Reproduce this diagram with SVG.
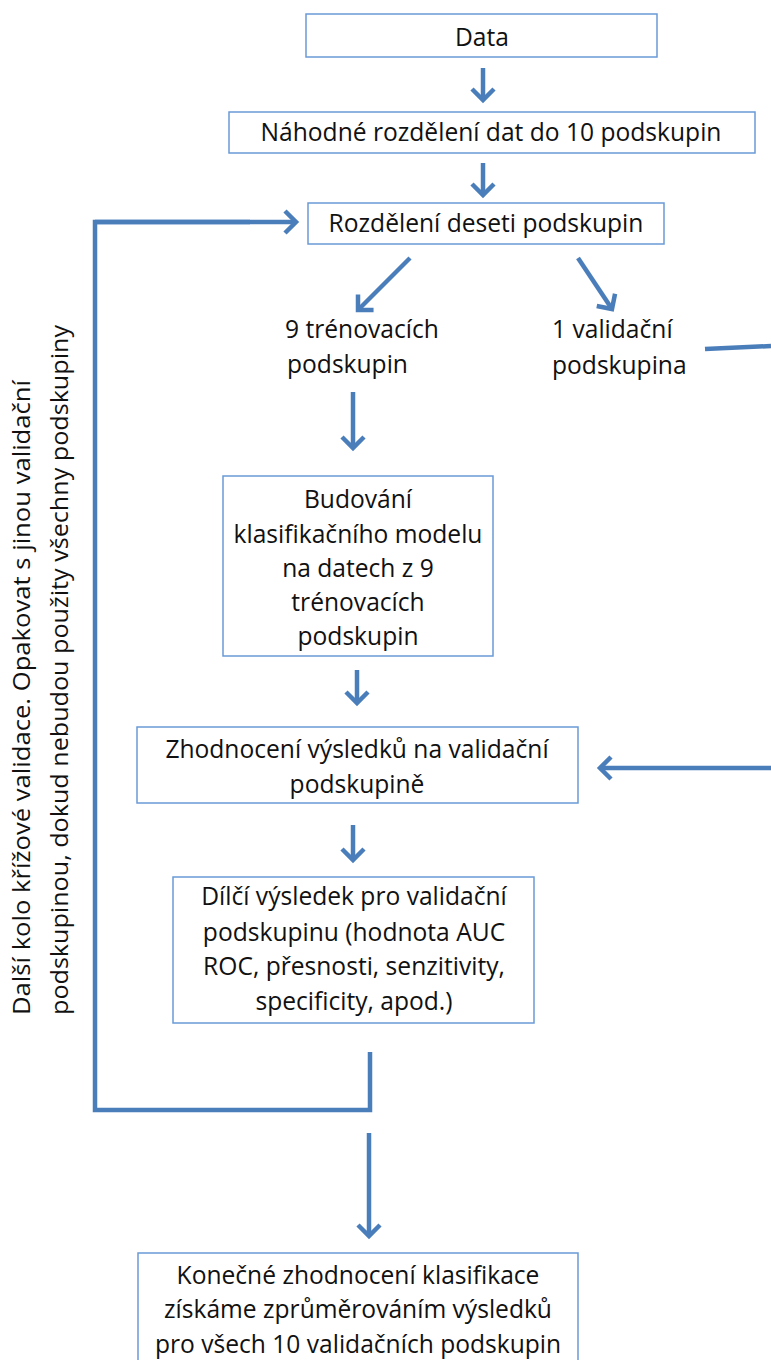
<svg xmlns="http://www.w3.org/2000/svg" width="771" height="1360" viewBox="0 0 771 1360">
<style>
.box{fill:#fff;stroke:#6a9ad6;stroke-width:1.5}
.t{font-family:"Open Sans",Lato,"Liberation Sans",sans-serif;font-size:24.6px;fill:#111;text-anchor:middle}
.tl{font-family:"Open Sans",Lato,"Liberation Sans",sans-serif;font-size:24.6px;fill:#111}
.tv{font-family:"Open Sans",Lato,"Liberation Sans",sans-serif;font-size:23px;fill:#111}
.c{stroke:#4a7ebb;stroke-width:4.5;fill:none}
.ca{stroke:#4a7ebb;stroke-width:4.5;fill:none;marker-end:url(#ah)}
</style>
<defs>
<marker id="ah" markerUnits="userSpaceOnUse" viewBox="-16 -16 20 32" refX="0" refY="0" markerWidth="20" markerHeight="32" orient="auto">
<path d="M-11,-11 L0,0 L-11,11" fill="none" stroke="#4a7ebb" stroke-width="4.5"/>
</marker>
</defs>
<rect width="771" height="1360" fill="#fff"/>
<g id="connectors">
<line class="ca" x1="483" y1="68" x2="483" y2="100"/>
<line class="ca" x1="483" y1="163" x2="483" y2="195"/>
<polyline class="c" points="370,1052 370,1110 95,1110 95,222 250,222"/>
<line class="ca" x1="95" y1="222" x2="296" y2="222"/>
<line class="ca" x1="410" y1="258" x2="358" y2="310"/>
<line class="ca" x1="578" y1="258" x2="612" y2="309"/>
<polyline class="c" points="705,349 771,346"/>
<line class="ca" x1="771" y1="768" x2="600" y2="768"/>
<line class="ca" x1="353" y1="392" x2="353" y2="448"/>
<line class="ca" x1="357" y1="670" x2="357" y2="703"/>
<line class="ca" x1="353" y1="825" x2="353" y2="860"/>
<line class="ca" x1="369" y1="1133" x2="369" y2="1236"/>
</g>
<g id="n-data"><rect class="box" x="306" y="14" width="351" height="43"/><text class="t" x="482" y="46">Data</text></g>
<g id="n-nahodne"><rect class="box" x="229" y="112" width="526" height="41"/><text class="t" x="491" y="141">Náhodné rozdělení dat do 10 podskupin</text></g>
<g id="n-rozdeleni"><rect class="box" x="308" y="203" width="356" height="41"/><text class="t" x="486" y="232">Rozdělení deseti podskupin</text></g>
<g id="n-trenovaci"><text class="tl" x="285" y="338">9 trénovacích</text><text class="tl" x="287" y="373">podskupin</text></g>
<g id="n-validacni"><text class="tl" x="552" y="338">1 validační</text><text class="tl" x="552" y="374">podskupina</text></g>
<g id="n-budovani"><rect class="box" x="223" y="476" width="270" height="180"/>
<text class="t" x="358" y="508">Budování</text>
<text class="t" x="358" y="543">klasifikačního modelu</text>
<text class="t" x="358" y="577">na datech z 9</text>
<text class="t" x="358" y="611">trénovacích</text>
<text class="t" x="358" y="645">podskupin</text></g>
<g id="n-zhodnoceni"><rect class="box" x="137" y="727" width="441" height="76"/>
<text class="t" x="357" y="758">Zhodnocení výsledků na validační</text>
<text class="t" x="357" y="793">podskupině</text></g>
<g id="n-dilci"><rect class="box" x="173" y="877" width="361" height="146"/>
<text class="t" x="354" y="905">Dílčí výsledek pro validační</text>
<text class="t" x="354" y="941">podskupinu (hodnota AUC</text>
<text class="t" x="354" y="975">ROC, přesnosti, senzitivity,</text>
<text class="t" x="354" y="1010">specificity, apod.)</text></g>
<g id="n-konecne"><rect class="box" x="138" y="1253" width="440" height="115"/>
<text class="t" x="358" y="1284">Konečné zhodnocení klasifikace</text>
<text class="t" x="358" y="1318">získáme zprůměrováním výsledků</text>
<text class="t" x="358" y="1353">pro všech 10 validačních podskupin</text></g>
<g id="n-loop-label">
<text class="tv" transform="translate(30,1015) rotate(-90)" textLength="635" lengthAdjust="spacingAndGlyphs">Další kolo křížové validace. Opakovat s jinou validační</text>
<text class="tv" transform="translate(68,1015) rotate(-90)" textLength="690" lengthAdjust="spacingAndGlyphs">podskupinou, dokud nebudou použity všechny  podskupiny</text>
</g>
</svg>
